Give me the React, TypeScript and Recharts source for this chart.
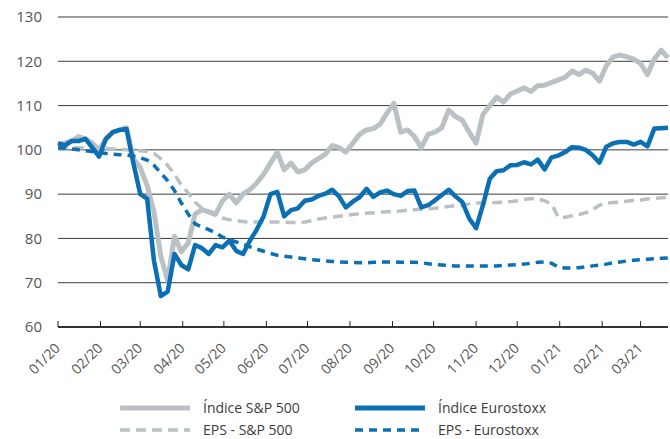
import { LineChart, Line, XAxis, YAxis, CartesianGrid, Legend } from "recharts";

// days since 01/01/2020, one point every 5 days
const days = Array.from({ length: 90 }, (_, i) => i * 5);

const sp500 = [
  101, 101.5, 102, 103, 102.5, 101.5, 100, 102.5, 104, 104.5,
  105, 98, 96, 92, 86, 76, 70.5, 80.5, 77, 79,
  85.5, 86.5, 86, 85.5, 88.5, 90, 88, 90, 91, 92.5,
  94.5, 97, 99.5, 95.5, 97, 95, 95.5, 97, 98, 99,
  101, 100.5, 99.5, 101.5, 103.5, 104.5, 104.8, 105.8, 108.3, 110.5,
  104, 104.5, 103, 100.5, 103.5, 104, 105, 109, 107.5, 106.7,
  104, 101.5, 108, 110, 111.9, 110.8, 112.6, 113.3, 114, 113.2,
  114.5, 114.6, 115.2, 115.8, 116.4, 117.8, 117, 118, 117.3, 115.5,
  119, 121, 121.4, 121, 120.5, 119.5, 117, 120.5, 122.5, 120.8,
];

const eurostoxx = [
  101.5, 101, 102, 102, 102.5, 100.5, 98.5, 102.5, 104, 104.5,
  104.7, 97, 90, 89, 75, 67, 68, 76.5, 74, 73,
  78.5, 77.8, 76.5, 78.5, 78, 79.5, 77.2, 76.5, 79.5, 82,
  85, 90, 90.5, 85, 86.4, 86.8, 88.5, 88.8, 89.6, 90.1,
  91, 89.5, 87, 88.3, 89.3, 91.2, 89.4, 90.4, 90.8, 90,
  89.6, 90.7, 90.8, 87, 87.5, 88.6, 89.8, 91, 89.5, 88.2,
  84.5, 82.3, 87.5, 93.5, 95.2, 95.4, 96.5, 96.6, 97.2, 96.7,
  97.8, 95.6, 98.3, 98.7, 99.5, 100.6, 100.5, 100, 98.8, 97.1,
  100.7, 101.5, 101.8, 101.8, 101.2, 101.8, 100.8, 104.8, 104.9, 105,
];

const epsSp500 = [
  100.5, 100.5, 100.5, 100.5, 100.4, 100.4, 100.3, 100.3, 100.2, 100.1,
  100, 99.9, 99.8, 99.6, 99.2, 98, 96.5, 94.5, 92, 90.3,
  88.2, 86.8, 85.8, 85.2, 84.6, 84.2, 84, 83.8, 83.7, 83.7,
  83.7, 83.7, 83.7, 83.7, 83.6, 83.6, 83.7, 84, 84.4, 84.6,
  84.8, 85, 85.2, 85.4, 85.6, 85.7, 85.8, 85.9, 86, 86.1,
  86.2, 86.4, 86.5, 86.6, 86.7, 86.8, 87, 87.2, 87.4, 87.5,
  87.8, 88, 88, 88, 88.1, 88.2, 88.3, 88.5, 88.8, 89,
  88.9, 88.5, 87.8, 84.8, 84.8, 85.1, 85.4, 85.8, 86.5, 87.5,
  88, 88.1, 88.2, 88.4, 88.6, 88.7, 88.9, 89, 89.2, 89.3,
];

const epsEurostoxx = [
  100.5, 100.4, 100.2, 100, 99.8, 99.6, 99.4, 99.2, 99, 98.9,
  98.8, 98.6, 98.2, 97.7, 96.5, 94.8, 93, 90.8, 88, 85.5,
  83.3, 82.6, 82, 81.2, 80.3, 79.7, 79.2, 78.7, 78.1, 77.6,
  77.1, 76.6, 76.2, 76, 75.8, 75.6, 75.4, 75.2, 75.1, 74.9,
  74.8, 74.7, 74.6, 74.6, 74.5, 74.5, 74.6, 74.7, 74.7, 74.7,
  74.6, 74.6, 74.6, 74.5, 74.3, 74.1, 74, 73.9, 73.8, 73.8,
  73.8, 73.8, 73.8, 73.8, 73.8, 73.9, 74, 74.1, 74.2, 74.4,
  74.6, 74.7, 74.4, 73.5, 73.3, 73.3, 73.4, 73.6, 73.8, 74,
  74.2, 74.5, 74.7, 74.9, 75.1, 75.2, 75.3, 75.4, 75.5, 75.6,
];

const monthDays = [0, 31, 60, 91, 121, 152, 182, 213, 244, 274, 305, 335, 366, 397, 425];
const monthLabels = ["01/20", "02/20", "03/20", "04/20", "05/20", "06/20", "07/20", "08/20", "09/20", "10/20", "11/20", "12/20", "01/21", "02/21", "03/21"];
const yTicks = [60, 70, 80, 90, 100, 110, 120, 130];

const GREY = "#b9c1c4";
const BLUE = "#0b6fb5";
const FONT = "'Open Sans', sans-serif";

const data = days.map((d, i) => ({
  day: d,
  sp: sp500[i],
  euro: eurostoxx[i],
  epsSp: epsSp500[i],
  epsEuro: epsEurostoxx[i],
}));

const MonthTick = (props: any) => {
  const { x, y, payload } = props;
  const idx = monthDays.indexOf(payload.value);
  const tx = x + 3;
  const ty = y + 22;
  return (
    <g>
      <line x1={x} x2={x} y1={y - 6} y2={y} stroke="#222" strokeWidth={1} />
      <text
        x={tx}
        y={ty}
        transform={`rotate(-45 ${tx} ${ty})`}
        textAnchor="end"
        fontSize={14}
        fontFamily={FONT}
        fill="#555"
      >
        {monthLabels[idx]}
      </text>
    </g>
  );
};

const legendItems = [
  { label: "Índice S&P 500", color: GREY, dash: undefined, width: 5, left: 120, top: 13 },
  { label: "Índice Eurostoxx", color: BLUE, dash: undefined, width: 5, left: 355, top: 13 },
  { label: "EPS - S&P 500", color: GREY, dash: "10 6", width: 3.5, left: 120, top: 35 },
  { label: "EPS - Eurostoxx", color: BLUE, dash: "8 6", width: 3.5, left: 355, top: 35 },
];

const ChartLegend = () => (
  <div style={{ position: "relative", height: 50 }}>
    {legendItems.map((it) => (
      <div
        key={it.label}
        style={{
          position: "absolute",
          left: it.left,
          top: it.top,
          height: 16,
          lineHeight: "16px",
          display: "flex",
          alignItems: "center",
          fontFamily: FONT,
          fontSize: 14,
          color: "#3c3c3c",
          whiteSpace: "nowrap",
        }}
      >
        <svg width={70} height={10} style={{ marginRight: 13 }}>
          <line x1={0} x2={70} y1={5} y2={5} stroke={it.color} strokeWidth={it.width} strokeDasharray={it.dash} />
        </svg>
        <span>{it.label}</span>
      </div>
    ))}
  </div>
);

export default function App() {
  return (
    <div style={{ position: "absolute", left: 0, top: 0, background: "#fff" }}>
      <LineChart width={670} height={439} data={data} margin={{ top: 17, right: 2, left: 0, bottom: 2 }}>
        <CartesianGrid horizontal vertical={false} stroke="#3a3a3a" strokeWidth={1} />
        <XAxis
          dataKey="day"
          type="number"
          domain={[0, 445]}
          ticks={monthDays}
          interval={0}
          tick={<MonthTick />}
          tickLine={false}
          tickSize={0}
          tickMargin={0}
          height={60}
          axisLine={{ stroke: "#111", strokeWidth: 1.5 }}
        />
        <YAxis
          type="number"
          domain={[60, 130]}
          ticks={yTicks}
          interval={0}
          width={58}
          axisLine={false}
          tickLine={false}
          tickSize={0}
          tickMargin={16}
          tick={{ fill: "#555", fontSize: 15, fontFamily: FONT }}
        />
        <Legend verticalAlign="bottom" height={50} content={<ChartLegend />} />
        <Line dataKey="sp" stroke={GREY} strokeWidth={5} dot={false} isAnimationActive={false} strokeLinejoin="round" />
        <Line dataKey="epsSp" stroke={GREY} strokeWidth={3.5} strokeDasharray="10 6" dot={false} isAnimationActive={false} />
        <Line dataKey="epsEuro" stroke={BLUE} strokeWidth={3.5} strokeDasharray="8 6" dot={false} isAnimationActive={false} />
        <Line dataKey="euro" stroke={BLUE} strokeWidth={4.5} dot={false} isAnimationActive={false} strokeLinejoin="round" />
      </LineChart>
    </div>
  );
}
